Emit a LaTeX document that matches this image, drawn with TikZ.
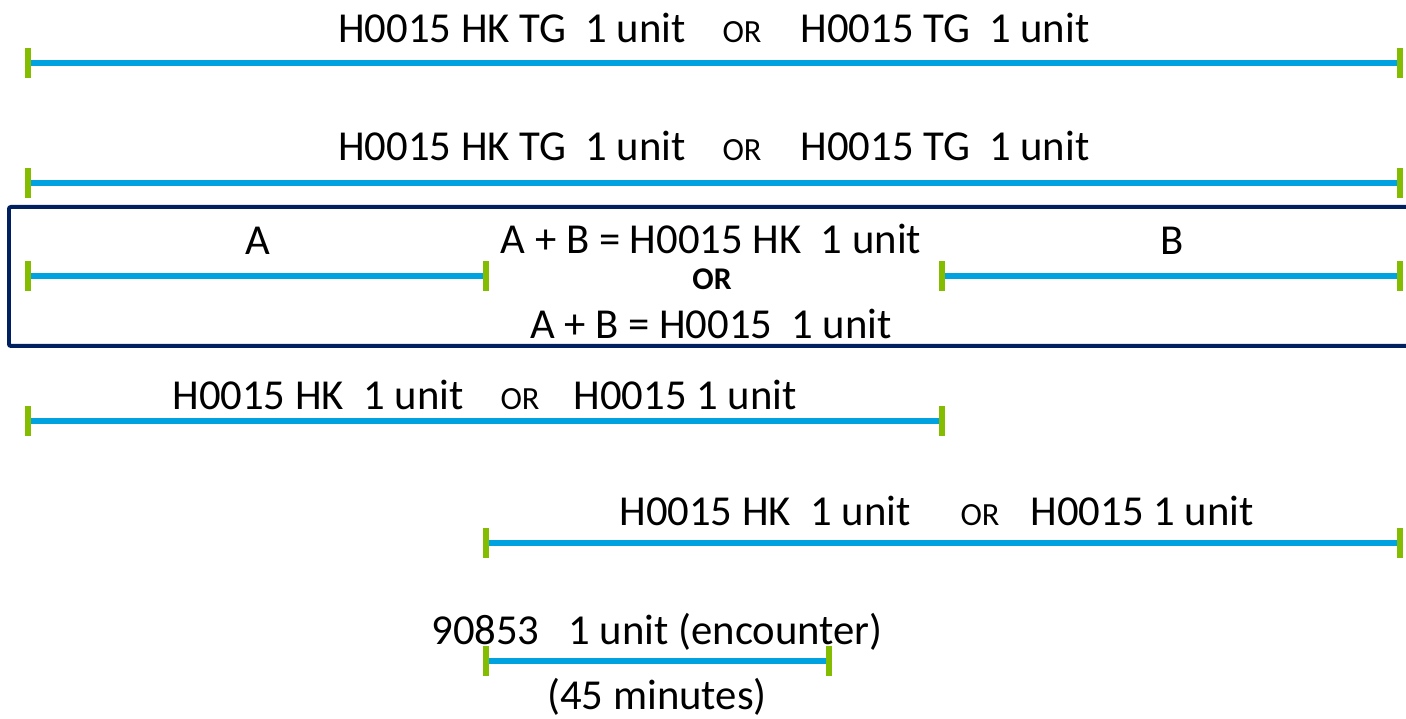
\documentclass[tikz,border=0pt]{standalone}
\usepackage{fontspec}
\setmainfont{Carlito}
\definecolor{segblue}{HTML}{00A2DF}
\definecolor{tickgreen}{HTML}{84BD00}
\definecolor{framenavy}{HTML}{002060}
\tikzset{
  seg/.style={line width=0.12cm,segblue},
  tick/.style={rectangle,fill=tickgreen,inner sep=0pt,minimum width=0.12cm,minimum height=0.6cm},
  lbl/.style={anchor=base,inner sep=0pt,font=\fontsize{24.3}{28}\selectfont},
  orlbl/.style={anchor=base,inner sep=0pt,font=\fontsize{18.4}{21}\selectfont},
  frame/.style={line width=0.08cm,framenavy,rounded corners=0.04cm}
}
\begin{document}
\begin{tikzpicture}[x=0.02cm,y=-0.02cm]

  \clip (0,0) rectangle (1406,719);

  \draw[frame] (9,207) rectangle (1420,346);

  % ticks
  \node[tick] (t1a) at (28,63) {};
  \node[tick] (t1b) at (1400,63) {};
  \node[tick] (t2a) at (28,183) {};
  \node[tick] (t2b) at (1400,183) {};
  \node[tick] (t3a) at (28,276) {};
  \node[tick] (t3b) at (486,276) {};
  \node[tick] (t3c) at (942,276) {};
  \node[tick] (t3d) at (1400,276) {};
  \node[tick] (t4a) at (28,421) {};
  \node[tick] (t4b) at (942,421) {};
  \node[tick] (t5a) at (486,543) {};
  \node[tick] (t5b) at (1400,543) {};
  \node[tick] (t6a) at (486,661) {};
  \node[tick] (t6b) at (829,661) {};

  \draw[seg] (t1a) -- (t1b);
  \draw[seg] (t2a) -- (t2b);
  \draw[seg] (t3a) -- (t3b);
  \draw[seg] (t3c) -- (t3d);
  \draw[seg] (t4a) -- (t4b);
  \draw[seg] (t5a) -- (t5b);
  \draw[seg] (t6a) -- (t6b);

  % labels
  \node[lbl] (hktg1) at (512,43) {H0015 HK TG\ \ 1 unit};
  \node[orlbl] (or1) at (742,43) {OR};
  \node[lbl] (tg1) at (945,43) {H0015 TG\ \ 1 unit};

  \node[lbl] (hktg2) at (512,161) {H0015 HK TG\ \ 1 unit};
  \node[orlbl] (or2) at (742,161) {OR};
  \node[lbl] (tg2) at (945,161) {H0015 TG\ \ 1 unit};

  \node[lbl] (la) at (258,255) {A};
  \node[lbl] (lb) at (1172,255) {B};
  \node[lbl] (sum1) at (711,254) {A + B = H0015 HK\ \ 1 unit};
  \node[orlbl,font=\fontsize{18}{21}\selectfont\bfseries] (or3) at (712,290) {OR};
  \node[lbl] (sum2) at (711,338) {A + B = H0015\ \ 1 unit};

  \node[lbl] (hk4) at (318,409) {H0015 HK\ \ 1 unit};
  \node[orlbl] (or4) at (520,409) {OR};
  \node[lbl] (h4) at (685,409) {H0015 1 unit};

  \node[lbl] (hk5) at (765,525) {H0015 HK\ \ 1 unit};
  \node[orlbl] (or5) at (980,525) {OR};
  \node[lbl] (h5) at (1142,525) {H0015 1 unit};

  \node[lbl] (enc) at (657,644) {90853\ \ \ 1 unit (encounter)};
  \node[lbl] (mins) at (657,709) {(45 minutes)};

\end{tikzpicture}
\end{document}
